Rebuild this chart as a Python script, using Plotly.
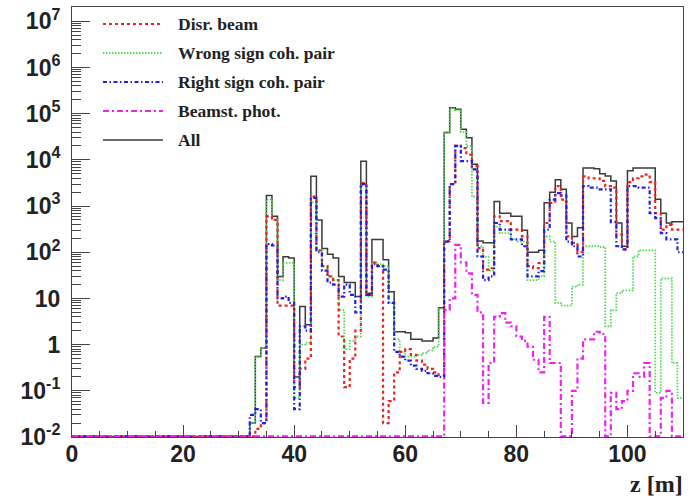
import numpy as np
import plotly.graph_objects as go

# ---------------- data (counts per 1 m bin, z from 0 to 110 m) ----------------
z_edges = list(range(0, 111))

disr_beam = [0]*33 + [
    0.015, 0.02, 600, 500, 7, 7, 7, 0.12, 0.3, 0.5,          # 33-42
    1600, 110, 50, 30, 25, 1.5, 0.12, 0.5, 2, 3200,          # 43-52
    12, 60, 50, 0.02, 0.06, 0.25, 0.7, 0.8, 0.6, 0.45,       # 53-62
    0.37, 0.3, 0.25, 0.22, 175, 3000, 20000, 18000, 13000, 7300,  # 63-72
    123, 42, 45, 600, 470, 470, 310, 310, 220, 50,           # 73-82
    45, 58, 430, 1170, 2700, 1380, 220, 160, 100, 4400,      # 83-92
    4000, 4000, 3500, 2700, 2500, 240, 115, 3300, 4000, 4400,  # 93-102
    4800, 3300, 700, 310, 390, 310, 310]                     # 103-109

wrong_sign = [0]*32 + [
    0.02, 0.55, 0.85, 1400, 500, 25, 59, 59, 0.07, 1.0,      # 32-41
    1.1, 1200, 110, 50, 30, 25, 5.6, 0.8, 1.2, 1.5,          # 42-51
    2800, 11, 60, 55, 50, 8, 1.3, 0.7, 0.55, 0.55,           # 52-61
    0.6, 0.65, 0.75, 0.9, 6, 39000, 130000, 120000, 40000, 20000,  # 62-71
    1600, 135, 80, 40, 360, 260, 260, 190, 170, 170,         # 72-81
    25, 25, 30, 220, 170, 8, 7, 7, 18, 20,                   # 82-91
    135, 135, 135, 130, 2.5, 5.6, 13, 15, 15, 81,            # 92-101
    110, 110, 110, 0.09, 27, 27, 0.4, 0.07]                  # 102-109

right_sign = [0]*32 + [
    0.03, 0.04, 0.02, 150, 140, 10, 11, 8, 0.04, 2.5,        # 32-41
    2, 1500, 100, 40, 22, 20, 11, 20, 12, 5,                 # 42-51
    3000, 12, 55, 50, 42, 8, 0.7, 0.55, 0.45, 0.35,          # 52-61
    0.3, 0.27, 0.24, 0.21, 0.2, 170, 3000, 20000, 9400, 9400,  # 62-71
    6200, 81, 25, 30, 430, 310, 310, 190, 190, 135,          # 72-81
    30, 30, 39, 310, 1380, 1900, 1700, 170, 135, 81,         # 82-91
    2700, 2500, 2500, 2300, 2300, 450, 135, 115, 2700, 2700,  # 92-101
    2500, 2500, 700, 550, 260, 190, 190, 100]                # 102-109

beamst_phot = [0]*67 + [
    5.6, 10, 145, 60, 35, 12, 5, 0.055, 0.4, 4,              # 67-76
    4.8, 3, 2.5, 1.5, 1.2, 0.9, 0.47, 0.25, 4, 0.4,          # 77-86
    0.4, 0, 0, 0.1, 0.5, 1.3, 1.3, 1.9, 1.7, 0,              # 87-96
    0.09, 0.04, 0.06, 0.1, 0.24, 0.2, 0.4, 0, 0, 0.07,       # 97-106
    0.1, 0, 0]                                               # 107-109

all_sources = [0]*32 + [
    0.02, 0.55, 0.85, 1700, 600, 30, 80, 75, 0.2, 6.7,       # 32-41
    2.7, 4400, 500, 120, 90, 75, 30, 22, 22, 11,             # 42-51
    9300, 13, 190, 190, 69, 14, 1.9, 1.9, 1.8, 1.3,          # 52-61
    1.3, 1.2, 1.2, 1.4, 6.3, 39000, 135000, 125000, 46000, 30000,  # 62-71
    8000, 175, 160, 160, 1260, 700, 700, 600, 600, 300,      # 72-81
    100, 100, 110, 1180, 2000, 3700, 2300, 430, 220, 340,    # 82-91
    6700, 6700, 6400, 5000, 4500, 3500, 430, 135, 5800, 6700,  # 92-101
    6700, 6700, 6700, 1400, 700, 430, 460, 460]              # 102-109

series_names = ["Disr. beam", "Wrong sign coh. pair", "Right sign coh. pair",
                "Beamst. phot.", "All"]
y_tick_vals = [1e-2, 1e-1, 1, 10, 1e2, 1e3, 1e4, 1e5, 1e6, 1e7]
y_tick_text = ["10<sup>-2</sup>", "10<sup>-1</sup>", "1", "10", "10<sup>2</sup>",
               "10<sup>3</sup>", "10<sup>4</sup>", "10<sup>5</sup>",
               "10<sup>6</sup>", "10<sup>7</sup>"]
x_tick_vals = [0, 20, 40, 60, 80, 100]

# ---------------- styling ----------------
Y_FLOOR = 1.03e-2      # empty bins are drawn on the frame bottom (ROOT style)
styles = {
    "Disr. beam": dict(color="#ee2020", width=2.2, dash="3px,3px"),
    "Wrong sign coh. pair": dict(color="#50d850", width=1.8, dash="1.5px,1.5px"),
    "Right sign coh. pair": dict(color="#2020e0", width=2.2, dash="4px,2.5px,1.5px,2.5px"),
    "Beamst. phot.": dict(color="#f020f0", width=2.2, dash="6px,3px,2px,3px"),
    "All": dict(color="#3a3a3a", width=1.5, dash="solid"),
}
data_map = {
    "Disr. beam": disr_beam,
    "Wrong sign coh. pair": wrong_sign,
    "Right sign coh. pair": right_sign,
    "Beamst. phot.": beamst_phot,
    "All": all_sources,
}

fig = go.Figure()
draw_order = ["All", "Wrong sign coh. pair", "Disr. beam", "Right sign coh. pair", "Beamst. phot."]
for name in draw_order:
    v = np.maximum(np.asarray(data_map[name], dtype=float), Y_FLOOR)
    yv = np.append(v, v[-1])
    fig.add_trace(go.Scatter(x=z_edges, y=yv, mode="lines", line_shape="hv",
                             line=styles[name], name=name, showlegend=False,
                             hoverinfo="skip"))

# ---------------- layout ----------------
W, H = 690, 501
L, R, T, B = 72, 7, 7, 64
pw, ph = W - L - R, H - T - B

def px_to_paper(px, py):
    return (px - L) / pw, (H - B - py) / ph

legend_rows = [24, 53, 82, 111, 140]
shapes, annotations = [], []
for name, py in zip(series_names, legend_rows):
    x0, y0 = px_to_paper(103, py)
    x1, _ = px_to_paper(163, py)
    st = styles[name]
    shapes.append(dict(type="line", xref="paper", yref="paper", x0=x0, x1=x1, y0=y0, y1=y0,
                       line=dict(color=st["color"], width=st["width"], dash=st["dash"])))
    tx, ty = px_to_paper(176, py)
    annotations.append(dict(xref="paper", yref="paper", x=tx, y=ty, xanchor="left",
                            yanchor="middle", text=name, showarrow=False,
                            font=dict(family="Liberation Serif", size=17.5, color="#222",
                                      weight="bold")))

tx, ty = px_to_paper(685, 484)
annotations.append(dict(xref="paper", yref="paper", x=tx, y=ty, xanchor="right",
                        yanchor="middle", text="z [m]", showarrow=False,
                        font=dict(family="Liberation Serif", size=24, color="#222",
                                  weight="bold")))

minor_y = [k * 10.0 ** n for n in range(-2, 8) for k in range(2, 10) if k * 10.0 ** n < 2.04e7]

fig.update_layout(
    width=W, height=H, margin=dict(l=L, r=R, t=T, b=B, autoexpand=False),
    paper_bgcolor="white", plot_bgcolor="white",
    shapes=shapes, annotations=annotations, showlegend=False,
    xaxis=dict(range=[0, 110], tickmode="array", tickvals=x_tick_vals, automargin=False,
               ticks="inside", ticklen=12, tickcolor="#444", tickwidth=1,
               minor=dict(ticks="inside", ticklen=6, dtick=5, tickcolor="#444", showgrid=False),
               showgrid=False, zeroline=False, showline=True, linecolor="#444",
               linewidth=1, mirror=True, ticklabelstandoff=-4,
               tickfont=dict(family="Liberation Sans", size=23, color="#222", weight="bold")),
    yaxis=dict(type="log", range=[-2, 7.31], tickmode="array", tickvals=y_tick_vals,
               ticktext=y_tick_text, ticks="inside", ticklen=18, tickcolor="#444",
               tickwidth=1, automargin=False,
               minor=dict(ticks="inside", ticklen=9, tickmode="array", tickvals=minor_y,
                          tickcolor="#444", showgrid=False),
               showgrid=False, zeroline=False, showline=True, linecolor="#444",
               linewidth=1, mirror=True, ticklabelstandoff=6,
               tickfont=dict(family="Liberation Sans", size=23, color="#222", weight="bold")),
)

fig.write_html("out.html", config={"displayModeBar": False},
               post_script="document.body.style.margin='0px';document.body.style.overflow='hidden';")
